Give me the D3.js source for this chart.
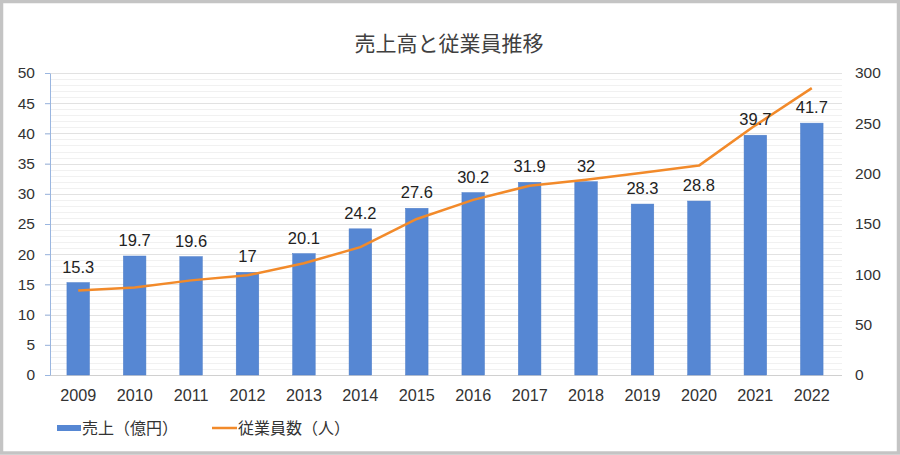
<!DOCTYPE html>
<html><head><meta charset="utf-8">
<script src="https://cdn.jsdelivr.net/npm/d3@7"></script>
<style>
html,body{margin:0;padding:0;background:#fff;}
svg{display:block;}
</style></head>
<body>
<svg id="chart" width="900" height="455"></svg>
<script>
const years = ["2009","2010","2011","2012","2013","2014","2015","2016","2017","2018","2019","2020","2021","2022"];
const sales = [15.3,19.7,19.6,17,20.1,24.2,27.6,30.2,31.9,32,28.3,28.8,39.7,41.7];
const employees = [84,87,94,99,111,127,155,174,188,194,201,208,248,285];
const leftTicks = [0,5,10,15,20,25,30,35,40,45,50];
const rightTicks = [0,50,100,150,200,250,300];
const title = "売上高と従業員推移";
const legendLabels = ["売上（億円）","従業員数（人）"];

const font = "'Liberation Sans', Arial, 'Noto Sans CJK JP', sans-serif";
const cjk = "'Noto Sans CJK JP', sans-serif";
const svg = d3.select("#chart");
const W = 900, H = 455;
const x0 = 50, x1 = 840, yTop = 73, yBot = 375;

svg.append("rect").attr("x",1.5).attr("y",1.5).attr("width",W-3).attr("height",H-3.5)
  .attr("fill","#fff").attr("stroke","#c4c4c4").attr("stroke-width",3.5);

const x = d3.scaleBand().domain(years).range([x0,x1]).paddingInner(0.6).paddingOuter(0.3);
const yL = d3.scaleLinear().domain([0,50]).range([yBot,yTop]);
const yR = d3.scaleLinear().domain([0,300]).range([yBot,yTop]);

// gridlines
const g = svg.append("g");
g.selectAll(".minor").data(d3.range(0,51,1).filter(v=>v%5!==0)).join("line")
  .attr("x1",x0).attr("x2",x1+2).attr("y1",d=>Math.round(yL(d))+0.5).attr("y2",d=>Math.round(yL(d))+0.5)
  .attr("stroke","#f1f1f1").attr("stroke-width",1);
g.selectAll(".major").data(leftTicks).join("line")
  .attr("x1",x0-5).attr("x2",x1+2).attr("y1",d=>Math.round(yL(d))+0.5).attr("y2",d=>Math.round(yL(d))+0.5)
  .attr("stroke",d=>d===0?"#d0d0d0":"#e2e2e2").attr("stroke-width",1);

// left axis
const axL = d3.axisLeft(yL).tickValues(leftTicks).tickSize(0).tickPadding(15);
const gL = svg.append("g").attr("transform",`translate(${x0},0)`).call(axL);
gL.select(".domain").attr("stroke","#9ab6e0");
gL.selectAll("text").attr("font-family",font).attr("font-size",15.5).attr("fill","#333");
gL.selectAll(".tick").append("line").attr("x1",-5).attr("x2",0).attr("stroke","#9ab6e0");

// right axis
const axR = d3.axisRight(yR).tickValues(rightTicks).tickSize(0).tickPadding(15);
const gR = svg.append("g").attr("transform",`translate(${x1},0)`).call(axR);
gR.select(".domain").remove();
gR.selectAll("text").attr("font-family",font).attr("font-size",15.5).attr("fill","#333");

// x axis
const axX = d3.axisBottom(x).tickSize(0).tickPadding(14);
const gX = svg.append("g").attr("transform",`translate(0,${yBot})`).call(axX);
gX.select(".domain").remove();
gX.selectAll("text").attr("font-family",font).attr("font-size",16.2).attr("fill","#333");

// bars
svg.append("g").selectAll("rect").data(years).join("rect")
  .attr("x",d=>x(d)).attr("width",x.bandwidth())
  .attr("y",(d,i)=>yL(sales[i])).attr("height",(d,i)=>yBot-yL(sales[i]))
  .attr("fill","#5687d3").attr("stroke","#4d7cc8").attr("stroke-width",0.5);

// line
const line = d3.line().x((d,i)=>x(years[i])+x.bandwidth()/2).y(d=>yR(d));
svg.append("path").datum(employees).attr("d",line)
  .attr("fill","none").attr("stroke","#f28a2a").attr("stroke-width",2.5).attr("stroke-linejoin","round");

// value labels
svg.append("g").selectAll("text").data(years).join("text")
  .attr("x",d=>x(d)+x.bandwidth()/2).attr("y",(d,i)=>yL(sales[i])-10)
  .attr("text-anchor","middle").attr("font-family",font).attr("font-size",16.5).attr("fill","#222")
  .text((d,i)=>sales[i]);

// title
svg.append("text").attr("x",449).attr("y",51).attr("text-anchor","middle")
  .attr("font-family",cjk).attr("font-size",21).attr("fill","#404040")
  .text(title);

// legend
const lg = svg.append("g");
lg.append("rect").attr("x",57).attr("y",425).attr("width",24).attr("height",6).attr("fill","#5687d3");
lg.append("text").attr("x",82).attr("y",433.5).attr("font-family",cjk)
  .attr("font-size",16).attr("fill","#333").text(legendLabels[0]);
lg.append("line").attr("x1",212).attr("x2",237).attr("y1",428).attr("y2",428)
  .attr("stroke","#f28a2a").attr("stroke-width",2.5);
lg.append("text").attr("x",238).attr("y",433.5).attr("font-family",cjk)
  .attr("font-size",16).attr("fill","#333").text(legendLabels[1]);
</script>
</body></html>
